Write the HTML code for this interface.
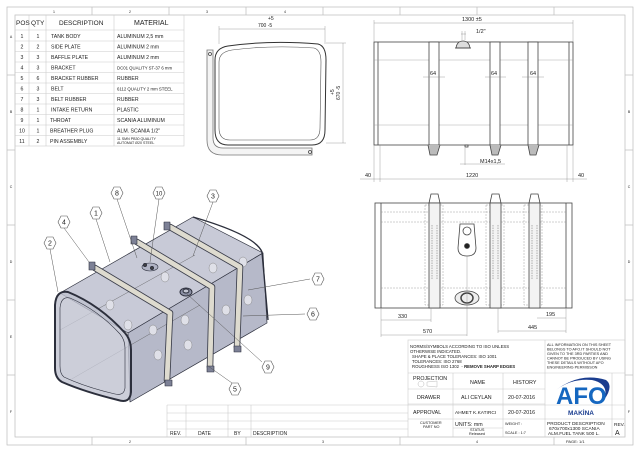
<!DOCTYPE html>
<html><head><meta charset="utf-8"><style>
html,body{margin:0;padding:0;background:#fff}
svg{display:block}
text{font-family:"Liberation Sans",sans-serif;fill:#222}
</style></head><body>
<svg width="640" height="452" viewBox="0 0 640 452" xmlns="http://www.w3.org/2000/svg">
<rect width="640" height="452" fill="#fff"/>
<g stroke="#bbb" stroke-width="0.7" fill="none">
<rect x="7" y="7" width="626" height="438"/>
<rect x="15" y="15" width="610" height="422"/>
<line x1="92" y1="7" x2="92" y2="15"/><line x1="169" y1="7" x2="169" y2="15"/><line x1="246" y1="7" x2="246" y2="15"/><line x1="323" y1="7" x2="323" y2="15"/><line x1="400" y1="7" x2="400" y2="15"/><line x1="477" y1="7" x2="477" y2="15"/><line x1="554" y1="7" x2="554" y2="15"/>
<line x1="92" y1="437" x2="92" y2="445"/><line x1="246" y1="437" x2="246" y2="445"/><line x1="400" y1="437" x2="400" y2="445"/><line x1="554" y1="437" x2="554" y2="445"/>
<line x1="7" y1="75" x2="15" y2="75"/><line x1="7" y1="150" x2="15" y2="150"/><line x1="7" y1="225" x2="15" y2="225"/><line x1="7" y1="300" x2="15" y2="300"/><line x1="7" y1="375" x2="15" y2="375"/>
<line x1="625" y1="75" x2="633" y2="75"/><line x1="625" y1="150" x2="633" y2="150"/><line x1="625" y1="225" x2="633" y2="225"/><line x1="625" y1="300" x2="633" y2="300"/><line x1="625" y1="375" x2="633" y2="375"/>
</g>
<g font-size="3.5" fill="#888" text-anchor="middle">
<text x="54" y="13">1</text><text x="130" y="13">2</text><text x="207" y="13">3</text><text x="285" y="13">4</text><text x="130" y="443">2</text><text x="323" y="443">3</text><text x="477" y="443">4</text>
<text x="11" y="38">A</text><text x="11" y="113">B</text><text x="11" y="188">C</text><text x="11" y="263">D</text><text x="11" y="338">E</text><text x="11" y="413">F</text>
<text x="629" y="113">B</text><text x="629" y="188">C</text><text x="629" y="263">D</text><text x="629" y="413">F</text>
</g>

<g stroke="#ccc" stroke-width="0.6" fill="none">
<rect x="15" y="15" width="169" height="131"/>
<line x1="29" y1="15" x2="29" y2="146"/><line x1="46" y1="15" x2="46" y2="146"/><line x1="114" y1="15" x2="114" y2="146"/>
<line x1="15" y1="30" x2="184" y2="30"/><line x1="15" y1="41" x2="184" y2="41"/><line x1="15" y1="51.5" x2="184" y2="51.5"/><line x1="15" y1="62" x2="184" y2="62"/><line x1="15" y1="72.5" x2="184" y2="72.5"/><line x1="15" y1="83" x2="184" y2="83"/><line x1="15" y1="93.5" x2="184" y2="93.5"/><line x1="15" y1="104" x2="184" y2="104"/><line x1="15" y1="114.5" x2="184" y2="114.5"/><line x1="15" y1="125" x2="184" y2="125"/><line x1="15" y1="135.5" x2="184" y2="135.5"/>
</g>
<g font-size="6.5"><text x="16" y="25">POS</text><text x="31" y="25">QTY</text><text x="59" y="25">DESCRIPTION</text><text x="134" y="25" font-size="7">MATERIAL</text></g>
<g font-size="5.2">
<g text-anchor="middle">
<text x="22" y="38">1</text><text x="22" y="48.5">2</text><text x="22" y="59">3</text><text x="22" y="69.5">4</text><text x="22" y="80">5</text><text x="22" y="90.5">6</text><text x="22" y="101">7</text><text x="22" y="111.5">8</text><text x="22" y="122">9</text><text x="22" y="132.5">10</text><text x="22" y="143">11</text>
<text x="38" y="38">1</text><text x="38" y="48.5">2</text><text x="38" y="59">3</text><text x="38" y="69.5">3</text><text x="38" y="80">6</text><text x="38" y="90.5">3</text><text x="38" y="101">3</text><text x="38" y="111.5">1</text><text x="38" y="122">1</text><text x="38" y="132.5">1</text><text x="38" y="143">2</text>
</g>
<text x="51" y="38">TANK BODY</text><text x="51" y="48.5">SIDE PLATE</text><text x="51" y="59">BAFFLE PLATE</text><text x="51" y="69.5">BRACKET</text><text x="51" y="80">BRACKET RUBBER</text><text x="51" y="90.5">BELT</text><text x="51" y="101">BELT RUBBER</text><text x="51" y="111.5">INTAKE RETURN</text><text x="50" y="122">THROAT</text><text x="50" y="132.5">BREATHER PLUG</text><text x="50" y="143">PIN ASSEMBLY</text>
<text x="117" y="38">ALUMINUM 2,5 mm</text><text x="117" y="48.5">ALUMINUM 2 mm</text><text x="117" y="59">ALUMINUM 2 mm</text><text x="117" y="69.5" font-size="4.3">DC01 QUALITY ST-37 6 mm</text><text x="117" y="80">RUBBER</text><text x="117" y="90.5" font-size="4.3">6112 QUALITY 2 mm STEEL</text><text x="117" y="101">RUBBER</text><text x="117" y="111.5">PLASTIC</text><text x="117" y="122">SCANIA ALUMINUM</text><text x="117" y="132.5">ALM. SCANIA 1/2"</text><text x="117" y="140" font-size="3.6">11 SMN PB30 QUALITY</text><text x="117" y="144" font-size="3.6">AUTOMAT Ø20 STEEL</text>
</g>

<g fill="none" stroke="#444" stroke-width="0.8">
<path d="M207 50 L213 50 L213 138 Q213 148 223 148 L312 148 L312 155 L222 155 Q207 155 207 140 Z" fill="#f4f4f4" stroke="#777"/>
<path d="M228 46 Q270 40 318 44 Q326 46 326 60 L325 130 Q325 145 312 145 L228 145 Q215 145 215 130 L215 60 Q215 48 228 46 Z" fill="#fff" stroke="#333" stroke-width="1"/>
<path d="M232 50 Q270 45 314 48 Q321 50 321 62 L320 128 Q320 140 310 140 L230 140 Q219 140 219 128 L219 62 Q219 52 232 50 Z" stroke="#555" stroke-width="0.6"/>
<circle cx="210" cy="54" r="1.5"/><circle cx="310" cy="152" r="1.5"/>
</g>
<g stroke="#888" stroke-width="0.4" fill="none"><line x1="219" y1="29" x2="325" y2="29"/><line x1="219" y1="26" x2="219" y2="44"/><line x1="325" y1="26" x2="325" y2="44"/><line x1="343" y1="43" x2="343" y2="143"/><line x1="326" y1="43" x2="346" y2="43"/><line x1="326" y1="143" x2="346" y2="143"/></g>
<g font-size="5" fill="#666"><text x="268" y="20">+5</text><text x="258" y="27">700 -5</text>
<text transform="translate(340,100) rotate(-90)">670 -5</text><text transform="translate(334,95) rotate(-90)">+5</text></g>

<g fill="none" stroke="#444" stroke-width="0.8">
<rect x="374" y="42" width="199" height="103" fill="#fff"/>
<line x1="378" y1="42" x2="378" y2="145"/><line x1="569" y1="42" x2="569" y2="145"/>
<g stroke="#999" stroke-width="0.4"><line x1="374" y1="60" x2="573" y2="60"/><line x1="374" y1="125" x2="573" y2="125"/></g>
<rect x="429" y="42" width="10" height="103" fill="#fff"/><rect x="490" y="42" width="10" height="103" fill="#fff"/><rect x="528" y="42" width="10" height="103" fill="#fff"/>
<path d="M456 48 Q457 41 463 41 Q469 41 470 48 Z" fill="#ddd"/><path d="M455 48 L471 48"/>
<path d="M428 145 L430 155 L437 155 L440 145 M490 145 L492 155 L498 155 L501 145 M528 145 L530 155 L536 155 L539 145" fill="#bbb"/>
<rect x="465" y="145" width="3" height="2"/>
</g>
<g stroke="#888" stroke-width="0.4" fill="none">
<line x1="374" y1="23" x2="573" y2="23"/><line x1="374" y1="20" x2="374" y2="42"/><line x1="573" y1="20" x2="573" y2="42"/>
<line x1="461" y1="34" x2="466" y2="34"/><line x1="462" y1="31" x2="462" y2="40"/><line x1="465" y1="31" x2="465" y2="40"/>
<line x1="423" y1="77" x2="445" y2="77"/><line x1="485" y1="77" x2="506" y2="77"/><line x1="522" y1="77" x2="544" y2="77"/>
<line x1="465" y1="148" x2="465" y2="165"/><line x1="460" y1="164" x2="505" y2="164"/>
<line x1="360" y1="179" x2="587" y2="179"/><line x1="374" y1="145" x2="374" y2="182"/><line x1="380" y1="145" x2="380" y2="182"/><line x1="567" y1="145" x2="567" y2="182"/><line x1="573" y1="145" x2="573" y2="182"/>
</g>
<g font-size="5.5" fill="#666"><text x="462" y="21">1300 ±5</text><text x="476" y="33">1/2"</text><text x="430" y="75">64</text><text x="491" y="75">64</text><text x="530" y="75">64</text><text x="480" y="163">M14x1,5</text><text x="365" y="177">40</text><text x="466" y="177">1220</text><text x="578" y="177">40</text></g>

<g fill="none" stroke="#444" stroke-width="0.8">
<rect x="375" y="203" width="197" height="105" fill="#fff"/>
<line x1="381" y1="203" x2="381" y2="308"/><line x1="566" y1="203" x2="566" y2="308"/>
<g stroke="#888" stroke-width="0.4" stroke-dasharray="2,1"><line x1="381" y1="222" x2="566" y2="222"/><line x1="381" y1="288" x2="566" y2="288"/><line x1="381" y1="212" x2="566" y2="212"/>
<rect x="425" y="205" width="18" height="100"/><rect x="486" y="205" width="18" height="100"/><rect x="524" y="205" width="18" height="100"/></g>
<rect x="429" y="203" width="11" height="105" fill="#f3f3f3"/><rect x="490" y="203" width="11" height="105" fill="#f3f3f3"/><rect x="529" y="203" width="11" height="105" fill="#f3f3f3"/>
<path d="M429 203 L431 194 L438 194 L440 203 M490 203 L492 194 L499 194 L501 203 M529 203 L531 194 L538 194 L540 203"/>
<g stroke="#666" stroke-width="0.5" stroke-dasharray="1.5,1"><line x1="432" y1="225" x2="432" y2="280"/><line x1="437" y1="225" x2="437" y2="280"/><line x1="493" y1="225" x2="493" y2="280"/><line x1="498" y1="225" x2="498" y2="280"/><line x1="532" y1="225" x2="532" y2="280"/><line x1="537" y1="225" x2="537" y2="280"/></g>
<path d="M460 224 L474 224 L476 248 Q476 256 467 256 Q458 256 458 248 Z" fill="#fff"/>
<circle cx="467" cy="231" r="4"/><circle cx="467" cy="246" r="2.5" fill="#222"/>
<ellipse cx="467" cy="298" rx="12" ry="7" fill="#eee"/><ellipse cx="467" cy="298" rx="6" ry="5" stroke-width="1.5"/>
</g>
<g stroke="#888" stroke-width="0.4" fill="none">
<line x1="381" y1="320" x2="431" y2="320"/><line x1="381" y1="335" x2="467" y2="335"/><line x1="467" y1="256" x2="467" y2="336"/><line x1="381" y1="308" x2="381" y2="337"/><line x1="431" y1="308" x2="431" y2="322"/>
<line x1="537" y1="318" x2="566" y2="318"/><line x1="498" y1="331" x2="566" y2="331"/><line x1="498" y1="308" x2="498" y2="333"/><line x1="566" y1="308" x2="566" y2="333"/>
</g>
<g font-size="5.5" fill="#666"><text x="398" y="318">330</text><text x="423" y="333">570</text><text x="546" y="316">195</text><text x="528" y="329">445</text></g>

<!-- isometric -->
<g stroke="#2c2f3c" stroke-linejoin="round">
<polygon points="60,293 128,333 263,253 193,217" fill="#c8cad7" stroke-width="0.7"/>
<polygon points="128,333 130,402 267,323 263,253" fill="#b6b9c9" stroke-width="0.7"/>
<path d="M193 217 Q255 235 262 252 L268 320" fill="none" stroke-width="1.4"/>
<g stroke="#555" stroke-width="0.4" fill="none"><line x1="60" y1="330" x2="195" y2="255"/><line x1="70" y1="380" x2="200" y2="305"/></g>
<path d="M68 292 Q100 305 125 333 Q131 340 131 350 L131 392 Q130 404 118 400 Q85 392 62 382 Q55 378 55 368 L55 305 Q56 290 68 292 Z" fill="#bfc2d0" fill-opacity="0.8" stroke-width="2"/>
<path d="M70 298 Q98 310 120 334 Q125 340 125 348 L125 388 Q124 396 115 394 Q85 387 64 377 Q60 374 60 366 L60 308 Q61 296 70 298 Z" fill="none" stroke-width="0.6"/>
<g fill="#dfe0e8" stroke="#777" stroke-width="0.4">
<ellipse cx="110" cy="305" rx="4" ry="5"/><ellipse cx="128" cy="325" rx="4" ry="5"/><ellipse cx="153" cy="330" rx="4" ry="5"/><ellipse cx="158" cy="355" rx="4" ry="5"/><ellipse cx="185" cy="320" rx="4" ry="5"/><ellipse cx="188" cy="345" rx="4" ry="5"/><ellipse cx="213" cy="268" rx="4" ry="5"/><ellipse cx="226" cy="310" rx="4" ry="5"/><ellipse cx="243" cy="262" rx="4" ry="5"/><ellipse cx="248" cy="300" rx="4" ry="5"/><ellipse cx="165" cy="277" rx="4" ry="5"/>
</g>
<g fill="none" stroke-linecap="round">
<path d="M95 268 L170 313 L167 380" stroke="#3a3d4a" stroke-width="6.5"/>
<path d="M95 268 L170 313 L167 380" stroke="#dedbcf" stroke-width="4.8"/>
<path d="M137 242 L212 287 L210 367" stroke="#3a3d4a" stroke-width="6.5"/>
<path d="M137 242 L212 287 L210 367" stroke="#dedbcf" stroke-width="4.8"/>
<path d="M170 227 L240 267 L237 347" stroke="#3a3d4a" stroke-width="6.5"/>
<path d="M170 227 L240 267 L237 347" stroke="#dedbcf" stroke-width="4.8"/>
</g>
<g fill="#7d8196" stroke-width="0.6">
<rect x="89" y="262" width="6" height="8"/><rect x="131" y="236" width="6" height="8"/><rect x="164" y="222" width="6" height="8"/>
<rect x="165" y="380" width="7" height="6"/><rect x="207" y="366" width="7" height="6"/><rect x="234" y="346" width="7" height="6"/>
</g>
<ellipse cx="186" cy="292" rx="6" ry="4" fill="#8d91a5" stroke-width="1"/><ellipse cx="186" cy="291" rx="3" ry="2" fill="#c4c7d3"/>
<ellipse cx="150" cy="267" rx="8" ry="4" fill="#b0b3c4" stroke-width="0.6"/><circle cx="145" cy="265" r="1.5" fill="#444"/><circle cx="152" cy="268" r="1.5" fill="#444"/>
</g>
<g stroke="#555" stroke-width="0.5" fill="none">
<line x1="50" y1="249" x2="58" y2="292"/><line x1="64" y1="228" x2="89" y2="262"/><line x1="96" y1="219" x2="110" y2="262"/><line x1="117" y1="199" x2="137" y2="258"/><line x1="159" y1="199" x2="150" y2="262"/><line x1="213" y1="202" x2="193" y2="256"/><line x1="310" y1="279" x2="248" y2="290"/><line x1="305" y1="314" x2="243" y2="316"/><line x1="262" y1="362" x2="187" y2="294"/><line x1="232" y1="383" x2="208" y2="366"/>
</g>
<g fill="#fff" stroke="#555" stroke-width="0.6">
<polygon points="44,243 47,237 53,237 56,243 53,249 47,249"/><polygon points="58,222 61,216 67,216 70,222 67,228 61,228"/><polygon points="90,213 93,207 99,207 102,213 99,219 93,219"/><polygon points="111,193 114,187 120,187 123,193 120,199 114,199"/><polygon points="153,193 156,187 162,187 165,193 162,199 156,199"/><polygon points="207,196 210,190 216,190 219,196 216,202 210,202"/><polygon points="312,279 315,273 321,273 324,279 321,285 315,285"/><polygon points="307,314 310,308 316,308 319,314 316,320 310,320"/><polygon points="262,367 265,361 271,361 274,367 271,373 265,373"/><polygon points="229,389 232,383 238,383 241,389 238,395 232,395"/>
</g>
<g font-size="7" text-anchor="middle"><text x="50" y="245.5">2</text><text x="64" y="224.5">4</text><text x="96" y="215.5">1</text><text x="117" y="195.5">8</text><text x="159" y="195.5" font-size="6">10</text><text x="213" y="198.5">3</text><text x="318" y="281.5">7</text><text x="313" y="316.5">6</text><text x="268" y="369.5">9</text><text x="235" y="391.5">5</text></g>

<g stroke="#ccc" stroke-width="0.6" fill="none">
<line x1="167" y1="405" x2="625" y2="405"/><line x1="167" y1="413" x2="408" y2="413"/><line x1="167" y1="421" x2="408" y2="421"/><line x1="167" y1="429" x2="408" y2="429"/>
<line x1="167" y1="405" x2="167" y2="437"/><line x1="186" y1="405" x2="186" y2="437"/><line x1="228" y1="405" x2="228" y2="437"/><line x1="251" y1="405" x2="251" y2="437"/>
</g>
<g font-size="5"><text x="170" y="435">REV.</text><text x="198" y="435">DATE</text><text x="234" y="435">BY</text><text x="253" y="435">DESCRIPTION</text></g>

<g stroke="#ccc" stroke-width="0.6" fill="none">
<rect x="408" y="340" width="217" height="97"/>
<line x1="545" y1="340" x2="545" y2="437"/><line x1="408" y1="373" x2="625" y2="373"/>
<line x1="408" y1="389" x2="545" y2="389"/><line x1="408" y1="404" x2="545" y2="404"/><line x1="408" y1="419" x2="625" y2="419"/>
<line x1="453" y1="373" x2="453" y2="437"/><line x1="503" y1="373" x2="503" y2="437"/><line x1="453" y1="428" x2="503" y2="428"/>
<line x1="612" y1="419" x2="612" y2="437"/><line x1="612" y1="373" x2="612" y2="419"/>
</g>
<g font-size="4.3">
<text x="410" y="348">NORMS/SYMBOLS ACCORDING TO ISO UNLESS</text><text x="410" y="353">OTHERWISE INDICATED.</text><text x="412" y="358">SHAPE &amp; PLACE TOLERANCES: ISO 1001</text><text x="412" y="363">TOLERANCES: ISO 2768</text><text x="412" y="368">ROUGHNESS ISO 1302 &#160;- <tspan font-weight="bold">REMOVE SHARP EDGES</tspan></text>
<text x="547" y="346" font-size="3.8">ALL INFORMATION ON THIS SHEET</text><text x="547" y="350.5" font-size="3.8">BELONGS TO AFO.IT SHOULD NOT</text><text x="547" y="355" font-size="3.8">GIVEN TO THE 3RD PARTIES AND</text><text x="547" y="359.5" font-size="3.8">CANNOT BE PRODUCED BY USING</text><text x="547" y="364" font-size="3.8">THESE DETAILS WITHOUT AFO</text><text x="547" y="368.5" font-size="3.8">ENGINEERING PERMISSON</text>
</g>
<g font-size="5.3">
<text x="413" y="380">PROJECTION</text><text x="470" y="384">NAME</text><text x="513" y="384">HISTORY</text>
<text x="417" y="399">DRAWER</text><text x="461" y="399">ALI CEYLAN</text><text x="508" y="399">20-07-2016</text>
<text x="413" y="414">APPROVAL</text><text x="455" y="414" font-size="4.8">AHMET K.KATIRCI</text><text x="508" y="414">20-07-2016</text>
<text x="455" y="426">UNITS: mm</text>
</g>
<g font-size="3.8"><text x="420" y="424">CUSTOMER</text><text x="423" y="428">PART NO</text><text x="470" y="431">STATUS</text><text x="469" y="435">Released</text><text x="505" y="425">WEIGHT :</text><text x="505" y="434">SCALE : 1:7</text></g>
<g stroke="#bbb" stroke-width="0.5" fill="none"><circle cx="421" cy="384" r="3"/><path d="M427 382 L437 381 L437 387 L427 386 Z"/></g>
<g font-size="4.8"><text x="547" y="425">PRODUCT DESCRIPTION</text><text x="549" y="430">670x700x1300 SCANIA</text><text x="548" y="435">ALM.FUEL TANK 500 L.</text><text x="614" y="426">REV.</text><text x="566" y="443" font-size="4">PAGE: 1/1</text></g>
<text x="615" y="435" font-size="7">A</text>
<path d="M556 390 Q580 372 606 380 Q614 386 604 400 Q610 384 592 380 Q572 378 556 390 Z" fill="#1a3d8f"/>
<text x="556" y="404" font-size="24" font-weight="bold" style="fill:#1567c0">AFO</text>
<text x="568" y="415" font-size="6.5" font-weight="bold" style="fill:#1a3d8f">MAKİNA</text>
</svg>
</body></html>
